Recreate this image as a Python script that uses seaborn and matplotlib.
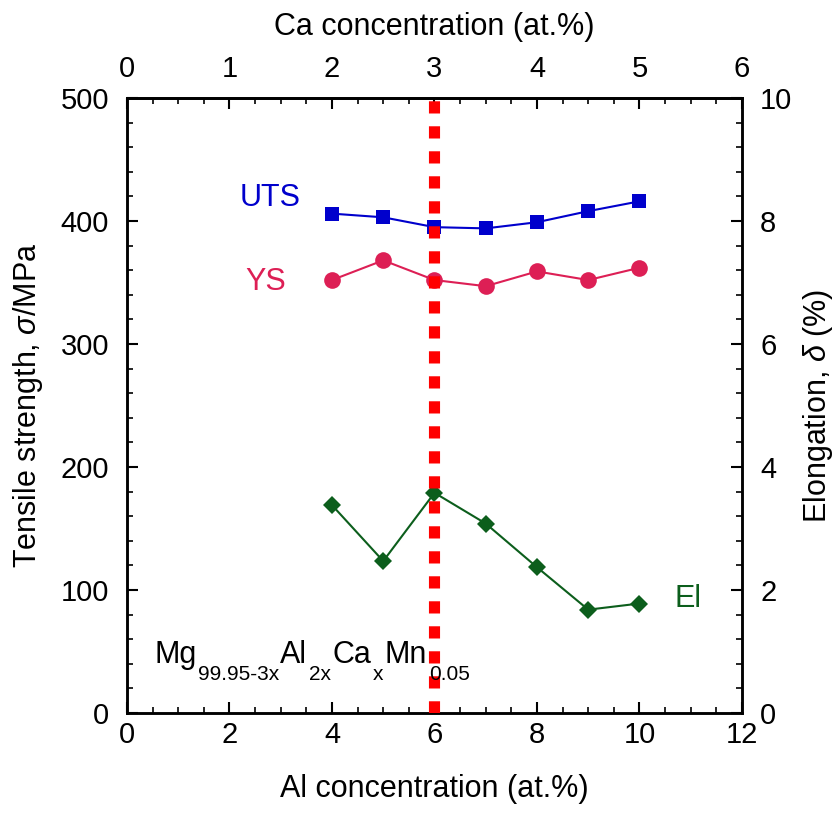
import matplotlib
matplotlib.use("Agg")
import matplotlib.pyplot as plt
import seaborn as sns
import numpy as np
import pandas as pd
from matplotlib.ticker import MultipleLocator

# ---- data ----
al_conc = [4, 5, 6, 7, 8, 9, 10]
uts = [406, 403, 395, 394, 399, 408, 416]
ys = [352, 368, 352, 347, 359, 352, 362]
elong = [3.38, 2.47, 3.58, 3.08, 2.37, 1.68, 1.78]
marker_line_al = 6
formula_parts = [('Mg', False), ('99.95-3x', True), ('Al', False), ('2x', True),
                 ('Ca', False), ('x', True), ('Mn', False), ('0.05', True)]

sns.set_theme(style="ticks")
plt.rcParams['font.family'] = ['Liberation Sans', 'DejaVu Sans']
plt.rcParams['mathtext.fontset'] = 'custom'
plt.rcParams['mathtext.rm'] = 'Liberation Sans'
plt.rcParams['mathtext.it'] = 'Liberation Sans:italic'
plt.rcParams['mathtext.sf'] = 'Liberation Sans'
for k in ('text.color', 'axes.labelcolor', 'xtick.color', 'ytick.color', 'axes.edgecolor'):
    plt.rcParams[k] = 'black'

FS = 22
TFS = 21
blue = '#0000CC'
crimson = '#DD1F55'
green = '#0C5E1C'

fig = plt.figure(figsize=(8.37, 8.14), dpi=100)
ax = fig.add_axes([0.1517, 0.1241, 0.7348, 0.7555])

df = pd.DataFrame({'Al': al_conc, 'UTS': uts, 'YS': ys, 'El': elong})

sns.lineplot(data=df, x='Al', y='UTS', ax=ax, color=blue, marker='s', markersize=10,
             markeredgewidth=0, linewidth=1.5)
sns.lineplot(data=df, x='Al', y='YS', ax=ax, color=crimson, marker='o', markersize=12,
             markeredgewidth=0, linewidth=1.5)

ax.set_xlim(0, 12)
ax.set_ylim(0, 500)
ax.xaxis.set_major_locator(MultipleLocator(2))
ax.xaxis.set_minor_locator(MultipleLocator(0.5))
ax.yaxis.set_major_locator(MultipleLocator(100))
ax.yaxis.set_minor_locator(MultipleLocator(20))
ax.set_xlabel('Al concentration (at.%)', fontsize=FS, labelpad=18)
ax.set_ylabel(r'Tensile strength, $\sigma$/MPa', fontsize=FS, labelpad=11)

ax2 = ax.twinx()
sns.lineplot(data=df, x='Al', y='El', ax=ax2, color=green, marker='D', markersize=9,
             markeredgewidth=0, linewidth=1.5)
ax2.set_ylim(0, 10)
ax2.yaxis.set_major_locator(MultipleLocator(2))
ax2.yaxis.set_minor_locator(MultipleLocator(0.4))
ax2.set_ylabel(r'Elongation, $\delta$ (%)', fontsize=FS, labelpad=6)
ax2.set_xlabel('')

ax2.axvline(marker_line_al, color='#FF0000', linewidth=8, linestyle=(0, (1.1, 1.15)),
            zorder=10)

sec = ax.secondary_xaxis('top', functions=(lambda x: x / 2, lambda x: x * 2))
sec.xaxis.set_major_locator(MultipleLocator(1))
sec.xaxis.set_minor_locator(MultipleLocator(0.25))
sec.set_xlabel('Ca concentration (at.%)', fontsize=FS, labelpad=14)

for a in (ax, ax2, sec):
    a.tick_params(which='major', direction='in', length=8, width=1.5, labelsize=TFS, pad=6,
                  colors='black')
    a.tick_params(which='minor', direction='in', length=4, width=1.2, colors='black')
ax.tick_params(axis='y', which='major', pad=13)
ax2.tick_params(axis='y', which='major', pad=13)
sec.tick_params(which='major', pad=11)
for s in ax.spines.values():
    s.set_linewidth(1.8)
for s in ax2.spines.values():
    s.set_linewidth(1.8)
sec.spines['top'].set_linewidth(1.8)
for a in (ax, ax2):
    a.yaxis.offsetText.set_visible(False)
    a.xaxis.offsetText.set_visible(False)
sec.xaxis.offsetText.set_visible(False)

ax.text(2.8, 419, 'UTS', color=blue, fontsize=FS, ha='center', va='center')
ax.text(2.7, 350, 'YS', color=crimson, fontsize=FS, ha='center', va='center')
ax.text(10.95, 93, 'El', color=green, fontsize=FS, ha='center', va='center')

# chemical formula with low subscripts, pieces chained left to right
base_x, base_y = 0.53, 0.81   # left/baseline in ax2 data units
prev = ax2.text(base_x, base_y, formula_parts[0][0], fontsize=FS, ha='left',
                va='baseline', zorder=12)
for txt, is_sub in formula_parts[1:]:
    prev = ax2.annotate(txt, xy=(1, base_y), xycoords=(prev, ax2.transData),
                        xytext=(1.5 if is_sub else 0.5, -12 if is_sub else 0),
                        textcoords='offset points',
                        fontsize=15 if is_sub else FS, ha='left', va='baseline',
                        zorder=12)

fig.savefig('out.png', dpi=100)
